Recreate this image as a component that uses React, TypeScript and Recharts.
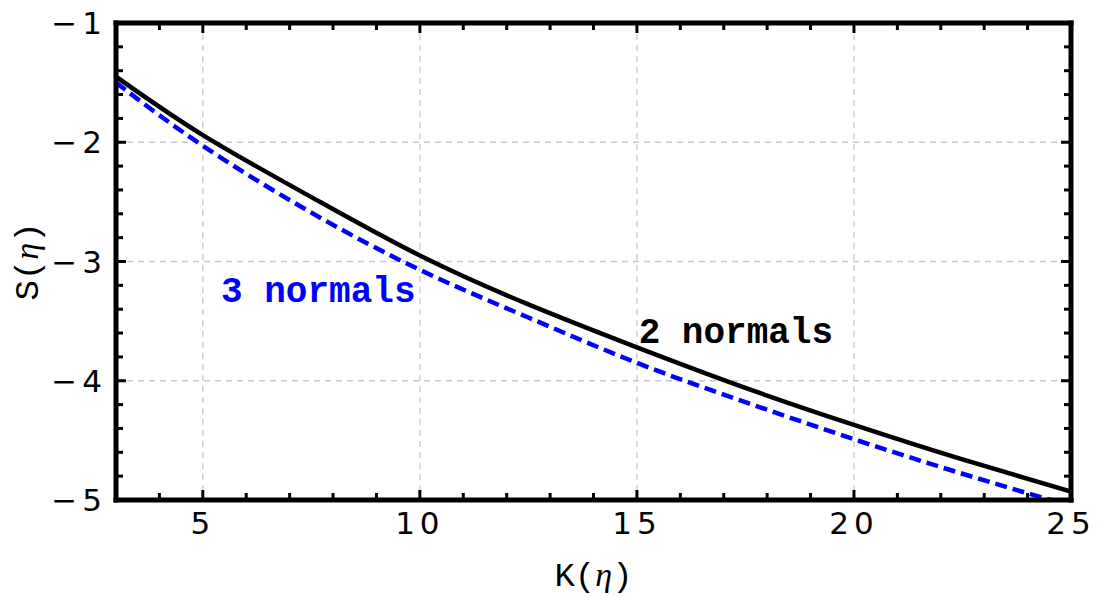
import { LineChart, Line, XAxis, YAxis, CartesianGrid, ReferenceDot, Label } from "recharts"

const kValues = [3, 5, 7.5, 10, 12.5, 15, 17.5, 20, 22.5, 25]
const twoNormals = [-1.45, -1.94, -2.46, -2.95, -3.36, -3.72, -4.06, -4.37, -4.66, -4.93]
const threeNormals = [-1.5, -2.03, -2.59, -3.07, -3.47, -3.85, -4.18, -4.49, -4.78, -5.05]

const xMajor = [5, 10, 15, 20, 25]
const xMinor = [4, 6, 7, 8, 9, 11, 12, 13, 14, 16, 17, 18, 19, 21, 22, 23, 24]
const yMajor = [-5, -4, -3, -2, -1]
const yMinor = [-4.8, -4.6, -4.4, -4.2, -3.8, -3.6, -3.4, -3.2, -2.8, -2.6, -2.4, -2.2, -1.8, -1.6, -1.4, -1.2]

const data = kValues.map((k, i) => ({ k, two: twoNormals[i], three: threeNormals[i] }))

const frame = { stroke: "#000", strokeWidth: 5, strokeLinecap: "square" as const }
const tickMark = { stroke: "#000", strokeWidth: 3 }
const tickFont = { fontFamily: "DejaVu Sans", fontSize: 31, fill: "#000", letterSpacing: 5 }
const mono = "Liberation Mono"

const fmt = (v: number) => (v < 0 ? "\u2212" + Math.abs(v) : String(v))
const noLabel = () => <g />

function XTitle(props: any) {
  const vb = props.viewBox
  return (
    <text x={vb.x + vb.width / 2} y={vb.y + 86} textAnchor="middle" fontSize={34} fontFamily={mono} fill="#000">
      K(<tspan fontFamily="Liberation Serif" fontStyle="italic">η</tspan>)
    </text>
  )
}

function YTitle(props: any) {
  const vb = props.viewBox
  const cx = 38
  const cy = vb.y + vb.height / 2
  return (
    <text x={cx} y={cy} transform={`rotate(-90 ${cx} ${cy})`} textAnchor="middle" fontSize={34} fontFamily={mono} fill="#000">
      S(<tspan fontFamily="Liberation Serif" fontStyle="italic">η</tspan>)
    </text>
  )
}

function note(text: string, color: string) {
  return (props: any) => (
    <text x={props.viewBox.x} y={props.viewBox.y} fontSize={36} fontWeight="bold" fontFamily={mono} fill={color}>
      {text}
    </text>
  )
}

export default function App() {
  return (
    <div style={{ position: "absolute", left: 0, top: 0, background: "#fff" }}>
      <LineChart width={1097} height={596} data={data} margin={{ top: 23, right: 26, bottom: 36, left: 0 }}>
        <CartesianGrid stroke="#c8c8c8" strokeDasharray="6 5" strokeWidth={1.3} />
        <XAxis
          dataKey="k"
          type="number"
          domain={[3, 25]}
          allowDataOverflow
          ticks={xMajor}
          interval={0}
          height={60}
          tickLine={false}
          tickSize={0}
          tickMargin={12}
          axisLine={frame}
          tick={tickFont}
          tickFormatter={fmt}
        >
          <Label content={XTitle} />
        </XAxis>
        <XAxis xAxisId="bmaj" dataKey="k" type="number" domain={[3, 25]} allowDataOverflow ticks={xMajor} interval={0} mirror height={1} tick={noLabel} tickSize={10} tickLine={tickMark} axisLine={false} />
        <XAxis xAxisId="bmin" dataKey="k" type="number" domain={[3, 25]} allowDataOverflow ticks={xMinor} interval={0} mirror height={1} tick={noLabel} tickSize={6} tickLine={tickMark} axisLine={false} />
        <XAxis xAxisId="tmaj" dataKey="k" orientation="top" type="number" domain={[3, 25]} allowDataOverflow ticks={xMajor} interval={0} mirror height={1} tick={noLabel} tickSize={10} tickLine={tickMark} axisLine={frame} />
        <XAxis xAxisId="tmin" dataKey="k" orientation="top" type="number" domain={[3, 25]} allowDataOverflow ticks={xMinor} interval={0} mirror height={1} tick={noLabel} tickSize={6} tickLine={tickMark} axisLine={false} />
        <YAxis
          type="number"
          domain={[-5, -1]}
          allowDataOverflow
          ticks={yMajor}
          interval={0}
          width={116}
          tickLine={false}
          tickSize={0}
          tickMargin={9}
          axisLine={frame}
          tick={tickFont}
          tickFormatter={fmt}
        >
          <Label content={YTitle} />
        </YAxis>
        <YAxis yAxisId="lmaj" type="number" domain={[-5, -1]} allowDataOverflow ticks={yMajor} interval={0} mirror width={1} tick={noLabel} tickSize={10} tickLine={tickMark} axisLine={false} />
        <YAxis yAxisId="lmin" type="number" domain={[-5, -1]} allowDataOverflow ticks={yMinor} interval={0} mirror width={1} tick={noLabel} tickSize={6} tickLine={tickMark} axisLine={false} />
        <YAxis yAxisId="rmaj" orientation="right" type="number" domain={[-5, -1]} allowDataOverflow ticks={yMajor} interval={0} mirror width={1} tick={noLabel} tickSize={10} tickLine={tickMark} axisLine={frame} />
        <YAxis yAxisId="rmin" orientation="right" type="number" domain={[-5, -1]} allowDataOverflow ticks={yMinor} interval={0} mirror width={1} tick={noLabel} tickSize={6} tickLine={tickMark} axisLine={false} />
        <Line dataKey="three" type="natural" stroke="#0000ff" strokeWidth={4.5} strokeDasharray="12 6" dot={false} isAnimationActive={false} />
        <Line dataKey="two" type="natural" stroke="#000" strokeWidth={4.5} dot={false} isAnimationActive={false} />
        <ReferenceDot x={5.42} y={-3.34} r={0} stroke="none" label={{ content: note("3 normals", "#0000ff") }} />
        <ReferenceDot x={15.04} y={-3.68} r={0} stroke="none" label={{ content: note("2 normals", "#000") }} />
      </LineChart>
    </div>
  )
}
